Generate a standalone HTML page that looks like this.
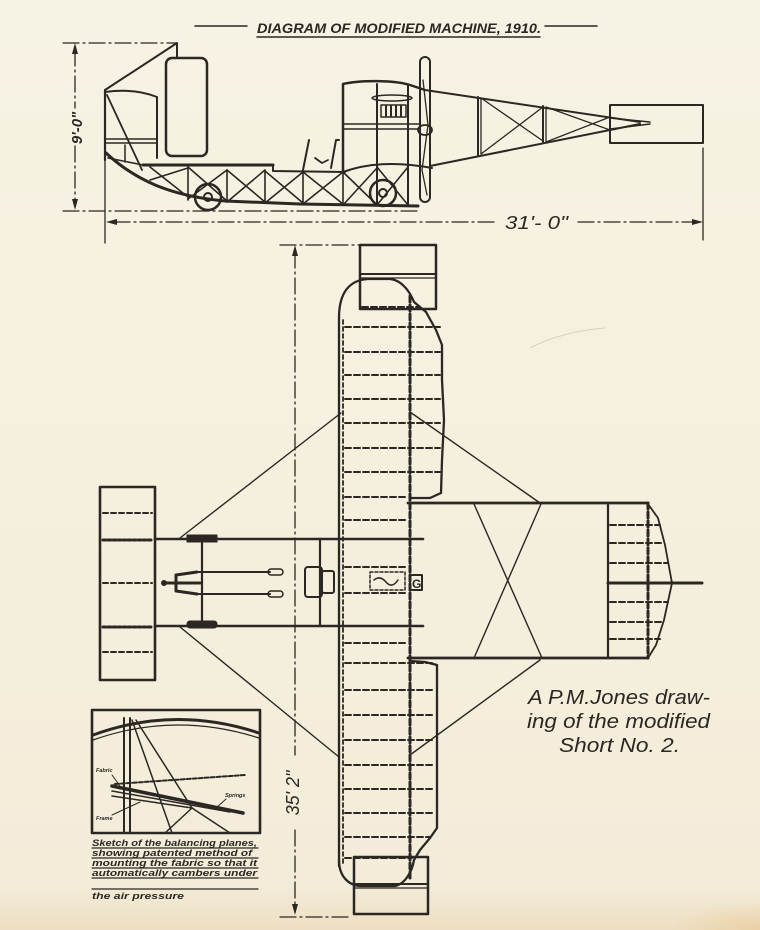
<!DOCTYPE html>
<html><head><meta charset="utf-8"><style>
html,body{margin:0;padding:0;background:#f5f0de;}
svg{display:block}
</style></head><body>
<svg width="760" height="930" viewBox="0 0 760 930" xmlns="http://www.w3.org/2000/svg">
<defs>
<linearGradient id="bg" x1="0" y1="0" x2="0" y2="1">
 <stop offset="0" stop-color="#f7f3e4"/>
 <stop offset="0.95" stop-color="#f3ecd9"/>
 <stop offset="1" stop-color="#eedfc2"/>
</linearGradient>
<radialGradient id="corner" cx="1" cy="1" r="0.35">
 <stop offset="0" stop-color="#e8c99a" stop-opacity="0.7"/>
 <stop offset="1" stop-color="#e8c99a" stop-opacity="0"/>
</radialGradient>
</defs>
<rect width="760" height="930" fill="url(#bg)"/>
<rect x="500" y="850" width="260" height="80" fill="url(#corner)"/>
<path d="M530,348 C555,335 580,330 605,328" stroke="#d8d0bc" stroke-width="1" fill="none"/>

<g stroke="#2b2723" fill="none" stroke-linecap="round" stroke-linejoin="round">

<!-- TITLE -->
<line x1="195" y1="26" x2="247" y2="26" stroke-width="1.5"/>
<line x1="545" y1="26" x2="597" y2="26" stroke-width="1.5"/>
<line x1="257" y1="37" x2="540" y2="37" stroke-width="1.5"/>

<!-- SIDE VIEW DIMENSIONS -->
<g stroke-dasharray="16 4 2 4" stroke-width="1.3">
<line x1="63" y1="43" x2="177" y2="43"/>
<line x1="63" y1="211" x2="420" y2="211"/>
<line x1="75" y1="50" x2="75" y2="108"/>
<line x1="75" y1="146" x2="75" y2="204"/>
<line x1="114" y1="222" x2="498" y2="222"/>
<line x1="578" y1="222" x2="696" y2="222"/>
</g>
<line x1="105" y1="160" x2="105" y2="243" stroke-width="1.3"/>
<line x1="703" y1="148" x2="703" y2="240" stroke-width="1.3"/>

<!-- front elevator side -->
<path d="M105,90 L177,43 L177,58" stroke-width="2"/>
<path d="M105,90 L105,160" stroke-width="2.2"/>
<path d="M105,92 Q135,88 157,97 L157,158" stroke-width="2"/>
<line x1="105" y1="139" x2="157" y2="139" stroke-width="1.5"/>
<line x1="105" y1="143" x2="157" y2="143" stroke-width="1.5"/>
<line x1="107" y1="95" x2="142" y2="170" stroke-width="1.8"/>
<line x1="125" y1="145" x2="125" y2="162" stroke-width="1.5"/>
<rect x="166" y="58" width="41" height="98" rx="6" stroke-width="2.5"/>

<!-- skid & frame -->
<path d="M106,153 C135,180 170,196 225,201 L300,204 L418,206" stroke-width="3"/>
<path d="M108,158 L143,165" stroke-width="1.5"/>
<path d="M143,165 L273,165" stroke-width="3"/>
<path d="M273,165 L273,171 L345,172" stroke-width="2"/>
<g stroke-width="1.6">
<line x1="188" y1="167" x2="188" y2="200"/>
<line x1="227" y1="170" x2="227" y2="202"/>
<line x1="265" y1="170" x2="265" y2="203"/>
<line x1="303" y1="172" x2="303" y2="204"/>
<line x1="343" y1="172" x2="343" y2="205"/>
<path d="M150,167 L188,197 M150,180 L188,168"/>
<path d="M188,167 L227,201 M188,199 L227,170"/>
<path d="M227,170 L265,202 M227,202 L265,170"/>
<path d="M265,171 L303,203 M265,203 L303,172"/>
<path d="M303,172 L343,204 M303,204 L343,172"/>
<path d="M343,172 L377,205 M343,205 L377,168"/>
<path d="M377,167 L408,205 M377,205 L408,167"/>
</g>
<circle cx="208" cy="197" r="13" stroke-width="2.5"/>
<circle cx="208" cy="197" r="4" stroke-width="2"/>
<circle cx="383" cy="193" r="13" stroke-width="2.5"/>
<circle cx="383" cy="193" r="4" stroke-width="2"/>
<path d="M303,170 L309,140" stroke-width="2"/>
<path d="M331,168 L336,140 L339,140" stroke-width="2"/>
<path d="M315,158 L322,163 L328,160" stroke-width="1.8"/>

<!-- engine nacelle -->
<path d="M343,172 L343,84 C360,80 395,80 410,85 L425,90" stroke-width="2.5"/>
<line x1="377" y1="84" x2="377" y2="205" stroke-width="2"/>
<line x1="408" y1="85" x2="408" y2="205" stroke-width="2"/>
<line x1="343" y1="124" x2="420" y2="124" stroke-width="1.5"/>
<line x1="343" y1="129" x2="420" y2="129" stroke-width="1.5"/>
<path d="M343,172 C370,162 400,162 432,168" stroke-width="2"/>
<ellipse cx="392" cy="98" rx="20" ry="3" stroke-width="1.5"/>
<rect x="381" y="105" width="25" height="12" stroke-width="1.5"/>
<path d="M386,106 V116 M391,106 V116 M396,106 V116 M401,106 V116" stroke-width="2"/>
<rect x="420" y="57" width="10" height="145" rx="5" stroke-width="2"/>
<path d="M423,80 L428,125 L422,170 L427,195" stroke-width="1.3"/>
<ellipse cx="425" cy="130" rx="7" ry="5" stroke-width="1.8"/>

<!-- tail boom side -->
<path d="M425,90 L640,122" stroke-width="2"/>
<path d="M430,166 L640,124" stroke-width="2"/>
<line x1="478" y1="97" x2="478" y2="155" stroke-width="2"/>
<line x1="481" y1="98" x2="481" y2="154" stroke-width="1.3"/>
<line x1="543" y1="106" x2="543" y2="142" stroke-width="2"/>
<line x1="546" y1="107" x2="546" y2="142" stroke-width="1.3"/>
<path d="M481,98 L543,141 M481,154 L543,107" stroke-width="1.3"/>
<path d="M546,107 L610,130 M546,142 L610,117" stroke-width="1.3"/>
<rect x="610" y="105" width="93" height="38" stroke-width="2"/>
<path d="M610,118 L650,122 M610,129 L650,124" stroke-width="1.5"/>

<!-- PLAN VIEW DIMENSION -->
<g stroke-dasharray="16 4 2 4" stroke-width="1.3">
<line x1="280" y1="245" x2="360" y2="245"/>
<line x1="280" y1="917" x2="352" y2="917"/>
<line x1="295" y1="252" x2="295" y2="755"/>
<line x1="295" y1="830" x2="295" y2="908"/>
</g>

<!-- top balancing plane -->
<rect x="360" y="245" width="76" height="64" stroke-width="2.5"/>
<line x1="360" y1="274" x2="436" y2="274" stroke-width="2"/>
<line x1="360" y1="278" x2="436" y2="278" stroke-width="1.3"/>
<!-- bottom balancing plane -->
<rect x="354" y="857" width="74" height="57" stroke-width="2.5"/>
<line x1="354" y1="884" x2="428" y2="884" stroke-width="2"/>
<line x1="354" y1="888" x2="428" y2="888" stroke-width="1.3"/>

<!-- main wing -->
<path d="M339,866 L339,318 C339,292 350,280 368,279 L390,279 C402,280 410,292 414,302 L426,312 L436,330 L442,345 L442,380 L444,420 L442,460 L441,493 L430,498 L410,498" stroke-width="2.3"/>
<path d="M339,860 C339,876 348,885 360,886 L395,886 C405,884 412,872 414,860 L420,850 L430,838 L437,828 L437,700 L437,665 L425,662 L410,661" stroke-width="2.3"/>
<line x1="343" y1="320" x2="343" y2="866" stroke-width="1.8" stroke-dasharray="4 3"/>
<line x1="410" y1="296" x2="410" y2="880" stroke-width="3" stroke-dasharray="6 3"/>
<g stroke-width="2" stroke-dasharray="6 3">
<line x1="362" y1="307" x2="420" y2="307"/>
<line x1="345" y1="327" x2="440" y2="327"/>
<line x1="345" y1="352" x2="440" y2="352"/>
<line x1="345" y1="375" x2="440" y2="375"/>
<line x1="345" y1="399" x2="440" y2="399"/>
<line x1="345" y1="423" x2="440" y2="423"/>
<line x1="345" y1="448" x2="440" y2="448"/>
<line x1="345" y1="472" x2="440" y2="472"/>
<line x1="345" y1="497" x2="408" y2="497"/>
<line x1="345" y1="520" x2="408" y2="520"/>
<line x1="345" y1="567" x2="408" y2="567"/>
<line x1="345" y1="593" x2="408" y2="593"/>
<line x1="345" y1="643" x2="408" y2="643"/>
<line x1="345" y1="663" x2="435" y2="663"/>
<line x1="345" y1="690" x2="435" y2="690"/>
<line x1="345" y1="715" x2="435" y2="715"/>
<line x1="345" y1="740" x2="435" y2="740"/>
<line x1="345" y1="765" x2="435" y2="765"/>
<line x1="345" y1="789" x2="435" y2="789"/>
<line x1="345" y1="813" x2="435" y2="813"/>
<line x1="345" y1="837" x2="430" y2="837"/>
<line x1="345" y1="858" x2="412" y2="858"/>
</g>
<!-- radiator & G box in plan -->
<rect x="370" y="572" width="35" height="18" stroke-width="1.5" stroke-dasharray="3 2"/>
<path d="M374,580 Q380,575 386,582 T398,580" stroke-width="1.5"/>
<rect x="410" y="575" width="12" height="15" stroke-width="2"/>
<text x="412" y="588" font-family="Liberation Sans, sans-serif" font-size="12" font-weight="bold" fill="#2b2723" stroke="none">G</text>

<!-- booms -->
<line x1="155" y1="539" x2="423" y2="539" stroke-width="2.6"/>
<line x1="155" y1="626" x2="423" y2="626" stroke-width="2.6"/>
<rect x="187" y="535" width="30" height="7" fill="#2b2723" stroke-width="1"/>
<rect x="187" y="621" width="30" height="7" rx="3" fill="#2b2723" stroke-width="1"/>
<line x1="202" y1="543" x2="202" y2="621" stroke-width="2.2"/>
<line x1="320" y1="539" x2="320" y2="626" stroke-width="2.2"/>
<line x1="197" y1="572" x2="270" y2="572" stroke-width="2"/>
<line x1="197" y1="594" x2="270" y2="594" stroke-width="2"/>
<rect x="268" y="569" width="15" height="6" rx="3" stroke-width="1.5"/>
<rect x="268" y="591" width="15" height="6" rx="3" stroke-width="1.5"/>
<path d="M163,583 L200,583 M176,575 L176,591 M176,575 L197,572 M176,591 L197,594" stroke-width="3"/>
<circle cx="164" cy="583" r="2.5" fill="#2b2723"/>
<rect x="305" y="567" width="17" height="30" rx="3" stroke-width="2"/>
<rect x="322" y="571" width="12" height="22" rx="2" stroke-width="2"/>

<!-- front elevator plan -->
<rect x="100" y="487" width="55" height="193" stroke-width="2.6"/>
<g stroke-width="2" stroke-dasharray="5 3">
<line x1="103" y1="513" x2="152" y2="513"/>
<line x1="103" y1="583" x2="152" y2="583"/>
<line x1="103" y1="652" x2="152" y2="652"/>
</g>
<g stroke-width="3" stroke-dasharray="3 2">
<line x1="103" y1="540" x2="152" y2="540"/>
<line x1="103" y1="627" x2="152" y2="627"/>
</g>

<!-- tail booms plan -->
<line x1="408" y1="503" x2="648" y2="503" stroke-width="2.8"/>
<line x1="408" y1="658" x2="648" y2="658" stroke-width="2.8"/>
<path d="M474,504 L542,658 M541,504 L474,658" stroke-width="1.4"/>
<line x1="608" y1="503" x2="608" y2="658" stroke-width="2.2"/>
<line x1="648" y1="503" x2="648" y2="658" stroke-width="3" stroke-dasharray="6 3"/>
<path d="M648,504 L658,518 L665,545 L672,583 L664,620 L656,645 L648,658" stroke-width="1.8"/>
<g stroke-width="2" stroke-dasharray="6 3">
<line x1="610" y1="525" x2="660" y2="525"/>
<line x1="610" y1="543" x2="664" y2="543"/>
<line x1="610" y1="563" x2="668" y2="563"/>
<line x1="610" y1="602" x2="668" y2="602"/>
<line x1="610" y1="622" x2="664" y2="622"/>
<line x1="610" y1="639" x2="660" y2="639"/>
</g>
<line x1="608" y1="583" x2="702" y2="583" stroke-width="3"/>

<!-- bracing diagonals -->
<g stroke-width="1.4">
<line x1="341" y1="413" x2="180" y2="538"/>
<line x1="180" y1="627" x2="339" y2="757"/>
<line x1="410" y1="412" x2="540" y2="503"/>
<line x1="540" y1="660" x2="410" y2="755"/>
</g>

<!-- INSET SKETCH -->
<rect x="92" y="710" width="168" height="123" stroke-width="2.6"/>
<path d="M93,735 Q175,705 259,733" stroke-width="3"/>
<path d="M93,740 Q175,711 259,738" stroke-width="1.2"/>
<line x1="124" y1="718" x2="124" y2="833" stroke-width="2"/>
<line x1="130" y1="718" x2="130" y2="833" stroke-width="2"/>
<g stroke-width="1.5">
<line x1="132" y1="720" x2="172" y2="833"/>
<line x1="136" y1="720" x2="192" y2="808"/>
<line x1="192" y1="808" x2="165" y2="833"/>
<line x1="192" y1="808" x2="230" y2="833"/>
<line x1="112" y1="796" x2="192" y2="808"/>
</g>
<path d="M112,786 L243,813" stroke-width="3.5"/>
<path d="M112,791 L230,812" stroke-width="1.5"/>
<path d="M115,784 L245,775" stroke-width="2" stroke-dasharray="4 2"/>
<path d="M112,775 L120,786 M112,815 L140,802 M226,799 L216,808" stroke-width="1"/>
<g stroke-width="1.2">
<line x1="92" y1="848" x2="258" y2="848"/>
<line x1="92" y1="858" x2="258" y2="858"/>
<line x1="92" y1="868" x2="258" y2="868"/>
<line x1="92" y1="878" x2="258" y2="878"/>
<line x1="92" y1="889" x2="258" y2="889"/>
</g>
</g>

<!-- arrowheads -->
<g fill="#2b2723">
<polygon points="75,43 72,54 78,54"/>
<polygon points="75,210 72,199 78,199"/>
<polygon points="106,222 117,219 117,225"/>
<polygon points="703,222 692,219 692,225"/>
<polygon points="295,245 292,256 298,256"/>
<polygon points="295,915 292,904 298,904"/>
</g>

<!-- TEXT -->
<g fill="#2b2723" font-family="Liberation Sans, sans-serif">
<text x="257" y="33" textLength="284" lengthAdjust="spacingAndGlyphs" font-size="13.5" font-style="italic" font-weight="bold">DIAGRAM OF MODIFIED MACHINE, 1910.</text>
<text transform="translate(82,128) rotate(-90)" text-anchor="middle" font-size="15" font-style="italic" font-weight="bold">9'-0"</text>
<text x="505" y="229" textLength="63" lengthAdjust="spacingAndGlyphs" font-size="18" font-style="italic">31'- 0"</text>
<text transform="translate(299,793) rotate(-90)" text-anchor="middle" font-size="18" font-style="italic">35' 2"</text>

<text x="528" y="704" textLength="182" lengthAdjust="spacingAndGlyphs" font-size="20" font-style="italic">A P.M.Jones draw-</text>
<text x="527" y="728" textLength="183" lengthAdjust="spacingAndGlyphs" font-size="20" font-style="italic">ing of the modified</text>
<text x="559" y="752" textLength="121" lengthAdjust="spacingAndGlyphs" font-size="20" font-style="italic">Short No. 2.</text>

<g font-size="5.5" font-style="italic" font-weight="bold">
<text x="96" y="772">Fabric</text>
<text x="96" y="820">Frame</text>
<text x="225" y="797">Springs</text>
</g>
<g font-size="9" font-style="italic" font-weight="bold">
<text x="92" y="846" textLength="165" lengthAdjust="spacingAndGlyphs">Sketch of the balancing planes,</text>
<text x="92" y="856" textLength="160" lengthAdjust="spacingAndGlyphs">showing patented method of</text>
<text x="92" y="866" textLength="165" lengthAdjust="spacingAndGlyphs">mounting the fabric so that it</text>
<text x="92" y="876" textLength="165" lengthAdjust="spacingAndGlyphs">automatically cambers under</text>
<text x="92" y="899" textLength="92" lengthAdjust="spacingAndGlyphs">the air pressure</text>
</g>
</g>
</svg>
</body></html>
